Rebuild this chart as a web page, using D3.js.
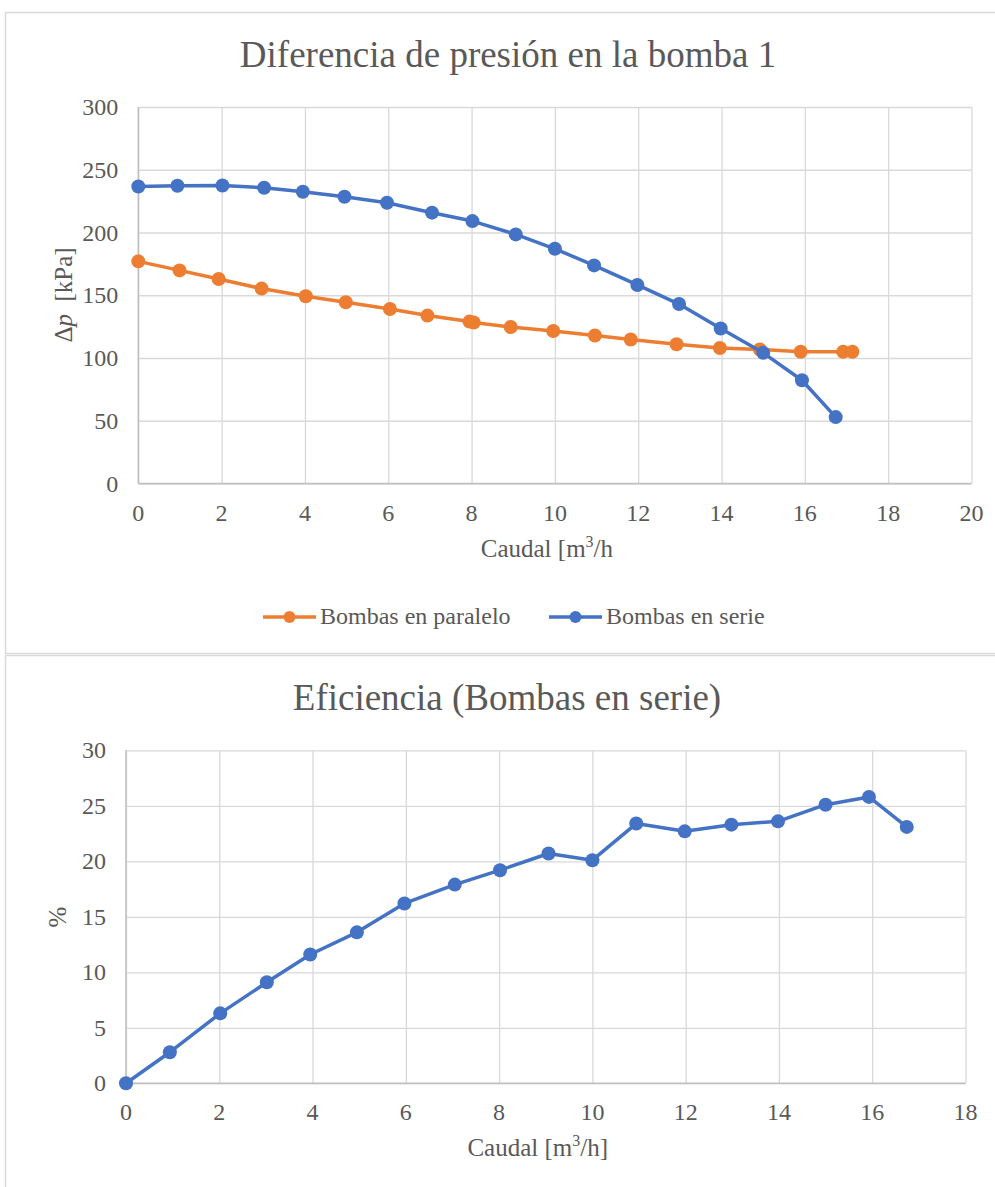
<!DOCTYPE html>
<html>
<head>
<meta charset="utf-8">
<script src="https://cdn.jsdelivr.net/npm/d3@7"></script>
<style>
  body { margin: 0; background: #fff; }
  svg text { font-family: 'Liberation Serif', 'DejaVu Serif', serif; fill: #595959; }
</style>
</head>
<body>
<svg id="chart" width="995" height="1187" font-family="'Liberation Serif', 'DejaVu Serif', serif"></svg>
<script>
// datos
const caudalSerie = [0, 0.94, 2.02, 3.02, 3.95, 4.95, 5.97, 7.05, 8.02, 9.06, 10.0, 10.94, 11.98, 12.98, 13.98, 15.0, 15.93, 16.74];
const presionSerie = [236.7, 237.2, 237.5, 235.6, 232.5, 228.5, 223.7, 215.8, 209.1, 198.5, 187.0, 173.8, 158.2, 143.0, 123.5, 104.1, 82.3, 52.9];

const caudalParalelo = [0, 0.99, 1.93, 2.96, 4.02, 4.98, 6.04, 6.94, 7.95, 8.05, 8.94, 9.96, 10.96, 11.82, 12.92, 13.96, 14.92, 15.9, 16.92, 17.14];
const presionParalelo = [177.0, 169.8, 162.9, 155.3, 149.2, 144.4, 139.1, 133.8, 129.0, 128.3, 124.7, 121.5, 117.9, 114.7, 111.0, 108.0, 106.8, 105.0, 105.0, 105.0];

const eficienciaSerie = [0, 2.8, 6.3, 9.1, 11.6, 13.6, 16.2, 17.9, 19.2, 20.7, 20.1, 23.4, 22.7, 23.3, 23.6, 25.1, 25.8, 23.1];

const presionTicks = [0, 50, 100, 150, 200, 250, 300];
const caudalTicks1 = [0, 2, 4, 6, 8, 10, 12, 14, 16, 18, 20];
const eficienciaTicks = [0, 5, 10, 15, 20, 25, 30];
const caudalTicks2 = [0, 2, 4, 6, 8, 10, 12, 14, 16, 18];

const azul = '#4472C4';
const naranja = '#ED7D31';
const gridColor = '#d9d9d9';
const axisColor = '#bfbfbf';

const svg = d3.select('#chart');

// marcos de los dos graficos
svg.append('rect')
  .attr('x', 5.5).attr('y', 12.5)
  .attr('width', 1005).attr('height', 641)
  .attr('fill', 'none').attr('stroke', gridColor).attr('stroke-width', 1.5);
svg.append('rect')
  .attr('x', 5.5).attr('y', 655.5)
  .attr('width', 1005).attr('height', 540)
  .attr('fill', 'none').attr('stroke', gridColor).attr('stroke-width', 1.5);

function drawPanel(p) {
  const x = d3.scaleLinear().domain(p.xDomain).range([p.left, p.right]);
  const y = d3.scaleLinear().domain(p.yDomain).range([p.bottom, p.top]);
  const g = svg.append('g');

  // rejilla
  g.append('g')
    .attr('transform', `translate(0,${p.bottom})`)
    .call(d3.axisBottom(x).tickValues(p.xTicks).tickSize(-(p.bottom - p.top)).tickFormat(''))
    .call(a => a.select('.domain').remove())
    .call(a => a.selectAll('line').attr('stroke', gridColor).attr('stroke-width', 1.3));
  g.append('g')
    .attr('transform', `translate(${p.left},0)`)
    .call(d3.axisLeft(y).tickValues(p.yTicks).tickSize(-(p.right - p.left)).tickFormat(''))
    .call(a => a.select('.domain').remove())
    .call(a => a.selectAll('line').attr('stroke', gridColor).attr('stroke-width', 1.3));

  // ejes
  g.append('line')
    .attr('x1', p.left).attr('x2', p.left)
    .attr('y1', p.top).attr('y2', p.bottom)
    .attr('stroke', axisColor).attr('stroke-width', 1.5);
  g.append('line')
    .attr('x1', p.left).attr('x2', p.right)
    .attr('y1', p.bottom).attr('y2', p.bottom)
    .attr('stroke', axisColor).attr('stroke-width', 1.5);

  // etiquetas
  g.selectAll('.ylab')
    .data(p.yTicks)
    .join('text')
    .attr('x', p.left - 20)
    .attr('y', d => y(d) + 8)
    .attr('text-anchor', 'end')
    .attr('font-size', '24px')
    .text(d => d);
  g.selectAll('.xlab')
    .data(p.xTicks)
    .join('text')
    .attr('x', d => x(d))
    .attr('y', p.bottom + 37)
    .attr('text-anchor', 'middle')
    .attr('font-size', '24px')
    .text(d => d);

  // titulo
  svg.append('text')
    .attr('x', p.titleX).attr('y', p.titleY)
    .attr('text-anchor', 'middle')
    .attr('font-size', '37px')
    .text(p.title);

  // titulo eje x
  const xt = svg.append('text')
    .attr('x', (p.left + p.right) / 2 - 8).attr('y', p.xTitleY)
    .attr('text-anchor', 'middle')
    .attr('font-size', '25px');
  xt.append('tspan').text('Caudal [m');
  xt.append('tspan').attr('font-size', '16px').attr('dy', -10).text('3');
  xt.append('tspan').attr('dy', 10).text(p.xTitleEnd);

  // series
  p.series.forEach(s => {
    const pts = s.xs.map((v, i) => [v, s.ys[i]]);
    g.append('path')
      .datum(pts)
      .attr('fill', 'none')
      .attr('stroke', s.color)
      .attr('stroke-width', 3.5)
      .attr('stroke-linejoin', 'round')
      .attr('d', d3.line().x(d => x(d[0])).y(d => y(d[1])));
    g.selectAll(null)
      .data(pts)
      .join('circle')
      .attr('cx', d => x(d[0]))
      .attr('cy', d => y(d[1]))
      .attr('r', 7)
      .attr('fill', s.color);
  });
  return g;
}

drawPanel({
  left: 138.3, right: 971.5, top: 107, bottom: 483.5,
  xDomain: [0, 20], yDomain: [0, 300],
  xTicks: caudalTicks1, yTicks: presionTicks,
  title: 'Diferencia de presión en la bomba 1', titleX: 508, titleY: 67,
  xTitleY: 557, xTitleEnd: '/h',
  series: [
    { xs: caudalParalelo, ys: presionParalelo, color: naranja },
    { xs: caudalSerie, ys: presionSerie, color: azul }
  ]
});

// eje y grafico 1
const yt1 = svg.append('text')
  .attr('transform', 'translate(72,295) rotate(-90)')
  .attr('text-anchor', 'middle')
  .attr('font-size', '25px');
yt1.append('tspan').text('Δ');
yt1.append('tspan').attr('font-style', 'italic').text('p');
yt1.append('tspan').text('\u00a0 [kPa]');

// leyenda
const legendItems = [
  { label: 'Bombas en paralelo', color: naranja, x: 263 },
  { label: 'Bombas en serie', color: azul, x: 549 }
];
const legend = svg.append('g');
legendItems.forEach(it => {
  legend.append('line')
    .attr('x1', it.x).attr('x2', it.x + 53)
    .attr('y1', 617).attr('y2', 617)
    .attr('stroke', it.color).attr('stroke-width', 3.5);
  legend.append('circle')
    .attr('cx', it.x + 26.5).attr('cy', 617).attr('r', 6)
    .attr('fill', it.color);
  legend.append('text')
    .attr('x', it.x + 57).attr('y', 624)
    .attr('font-size', '24px')
    .text(it.label);
});

drawPanel({
  left: 126, right: 965.5, top: 750.3, bottom: 1083.3,
  xDomain: [0, 18], yDomain: [0, 30],
  xTicks: caudalTicks2, yTicks: eficienciaTicks,
  title: 'Eficiencia (Bombas en serie)', titleX: 507, titleY: 710,
  xTitleY: 1156, xTitleEnd: '/h]',
  series: [
    { xs: caudalSerie, ys: eficienciaSerie, color: azul }
  ]
});

svg.append('text')
  .attr('transform', 'translate(66,917) rotate(-90)')
  .attr('text-anchor', 'middle')
  .attr('font-size', '25px')
  .text('%');
</script>
</body>
</html>
